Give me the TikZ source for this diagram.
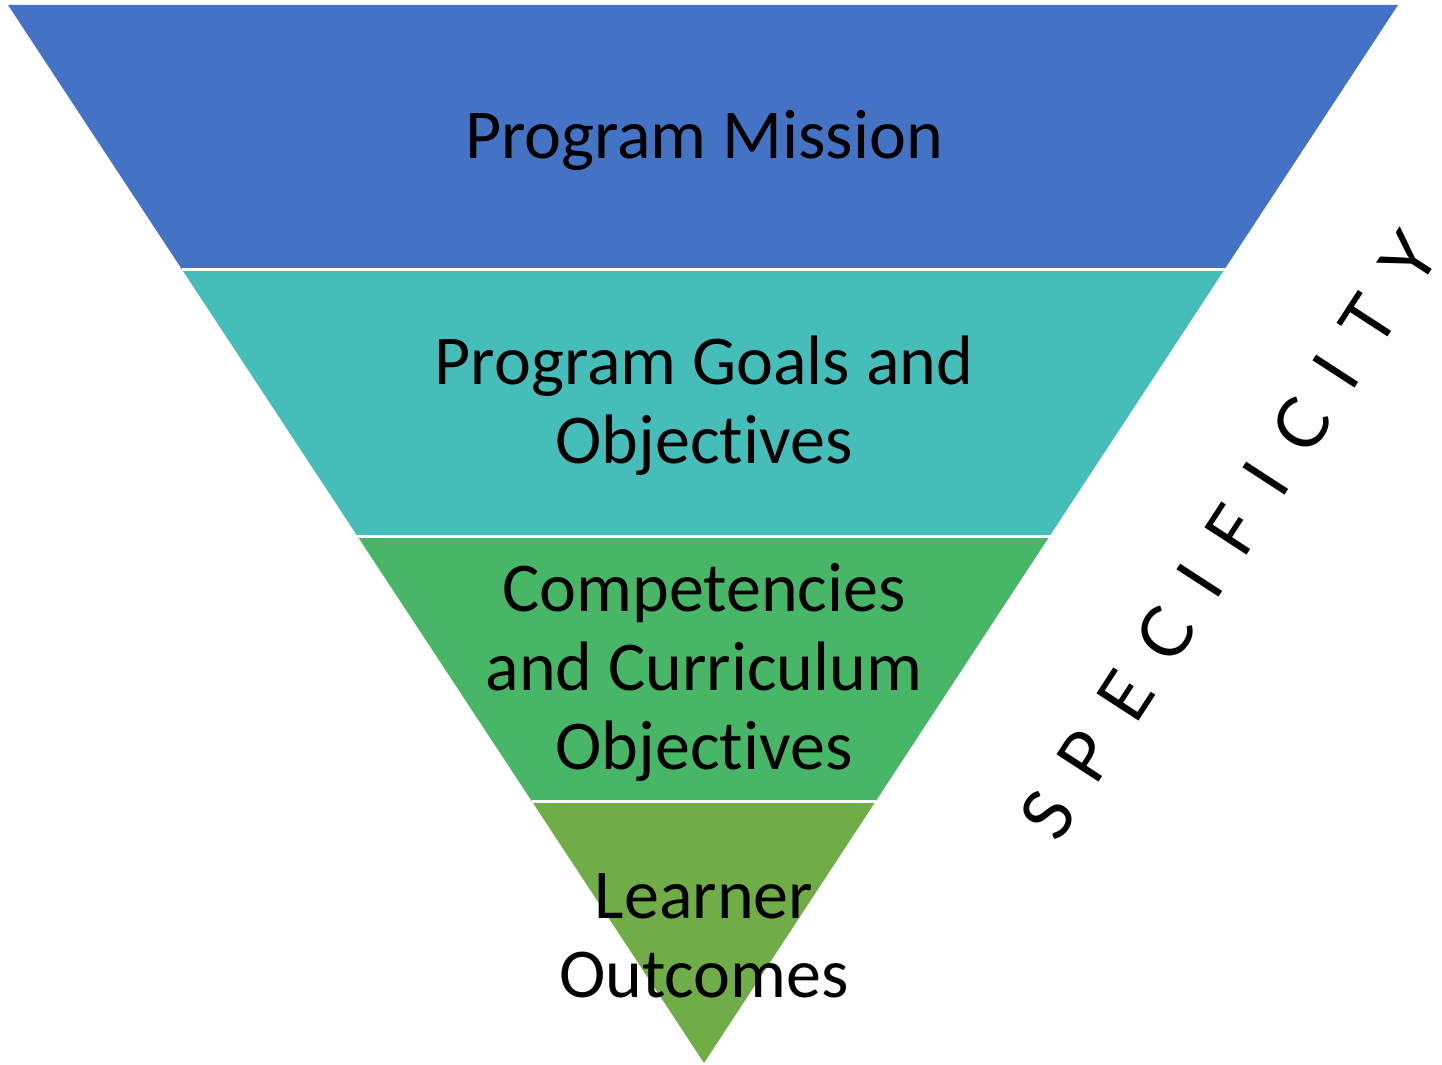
\documentclass[tikz,border=0pt]{standalone}
\usepackage{fontspec}
\setmainfont{Carlito}[Ligatures=NoCommon]
\newfontfamily\specfont[LetterSpace=44]{Lato}
\usetikzlibrary{calc}
\definecolor{bandA}{HTML}{4472C4}
\definecolor{bandB}{HTML}{45BDB9}
\definecolor{bandC}{HTML}{47B767}
\definecolor{bandD}{HTML}{70AD47}
\begin{document}
\begin{tikzpicture}[x=0.5pt,y=-0.5pt,
  bandtext/.style={align=center,font=\fontsize{35}{39.5}\selectfont,text=black,inner sep=0pt},
  gap/.style={draw=white,line width=1.5pt}]
\useasboundingbox (0,0) rectangle (1442,1065);
% outline of the funnel
\coordinate (tl) at (8,5);
\coordinate (tr) at (1398,5);
\coordinate (ap) at (704,1063);
% band boundaries on both slanted edges
\foreach \t/\n in {0.25/1,0.502/2,0.7525/3}{
  \coordinate (l\n) at ($(tl)!\t!(ap)$);
  \coordinate (r\n) at ($(tr)!\t!(ap)$);
}
\fill[bandA] (tl) -- (tr) -- (r1) -- (l1) -- cycle;
\fill[bandB] (l1) -- (r1) -- (r2) -- (l2) -- cycle;
\fill[bandC] (l2) -- (r2) -- (r3) -- (l3) -- cycle;
\fill[bandD] (l3) -- (r3) -- (ap) -- cycle;
\draw[gap] (l1) -- (r1);
\draw[gap] (l2) -- (r2);
\draw[gap] (l3) -- (r3);
% labels
\node[bandtext] (mission) at (704,140) {Program Mission};
\node[bandtext] (goals) at (704,406) {Program Goals and\\Objectives};
\node[bandtext] (comp) at (704,672) {Competencies\\and Curriculum\\Objectives};
\node[bandtext] (learn) at (704,936) {Learner\\Outcomes};
\node[rotate=57,font=\specfont\fontsize{35}{40}\selectfont,inner sep=0pt] (spec) at (1229,536) {SPECIFICITY};
\end{tikzpicture}
\end{document}
